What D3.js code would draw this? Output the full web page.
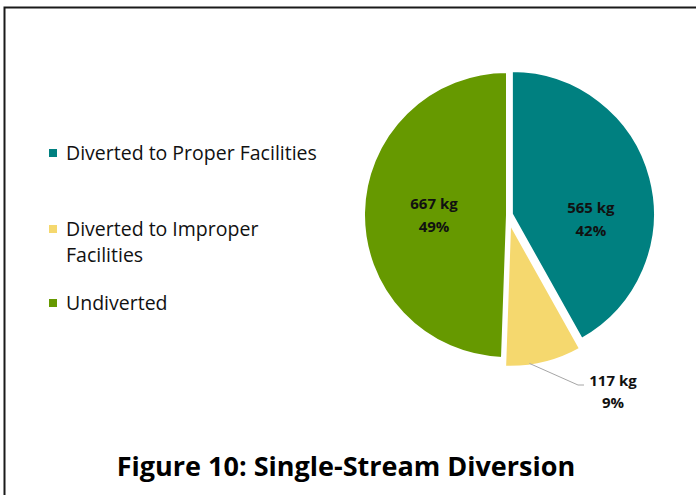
<!DOCTYPE html>
<html>
<head>
<meta charset="utf-8">
<script src="https://d3js.org/d3.v7.min.js"></script>
<style>
body { margin: 0; background: #fff; }
text { font-family: "Open Sans", Lato, sans-serif; }
</style>
</head>
<body>
<svg id="chart" width="696" height="495"></svg>
<script>
// data
var categories = ["Diverted to Proper Facilities", "Diverted to Improper Facilities", "Undiverted"]
var values = [565, 117, 667]
var percents = ["42%", "9%", "49%"]
var colors = ["#008080", "#F5D86E", "#669900"]
var explode = [4, 9, 1]
var legendLines = [["Diverted to Proper Facilities"], ["Diverted to Improper", "Facilities"], ["Undiverted"]]
var title = "Figure 10: Single-Stream Diversion"

var svg = d3.select("#chart")
var cx = 508, cy = 215, r = 143

// frame (left + top edge only visible)
svg.append("path")
    .attr("d", "M4.5,495 V7.5 H696")
    .style("fill", "none")
    .style("stroke", "#1a1a1a")
    .style("stroke-width", 2)

var pie = d3.pie().sort(null).value(d => d)
var arcs = pie(values)
var arc = d3.arc().innerRadius(0).outerRadius(r)

var g = svg.append("g").attr("transform", "translate(" + cx + "," + cy + ")")

arcs.forEach(function(a, i) {
    var mid = (a.startAngle + a.endAngle) / 2
    var dx = Math.sin(mid) * explode[i]
    var dy = -Math.cos(mid) * explode[i]
    g.append("path")
        .attr("d", arc(a))
        .attr("transform", "translate(" + dx + "," + dy + ")")
        .style("fill", colors[i])
        .style("stroke", "#fff")
        .style("stroke-width", 2)
})

// inside labels (angle in degrees clockwise from top, radius)
var labelPos = {0: [93, 83], 2: [270, 74]}
Object.keys(labelPos).forEach(function(k) {
    var i = +k
    var ang = labelPos[k][0] * Math.PI / 180, rr = labelPos[k][1]
    var c = [Math.sin(ang) * rr, -Math.cos(ang) * rr]
    var t = g.append("text")
        .attr("text-anchor", "middle")
        .style("font-weight", "bold")
        .style("font-size", "15px")
        .style("fill", "#111")
    t.append("tspan").attr("x", c[0]).attr("y", c[1] - 6).text(values[i] + " kg")
    t.append("tspan").attr("x", c[0]).attr("y", c[1] + 17).text(percents[i])
})

// outside label for small slice with leader
var a1 = arcs[1]
var mid1 = (a1.startAngle + a1.endAngle) / 2
var ex = Math.sin(mid1) * explode[1], ey = -Math.cos(mid1) * explode[1]
var p0 = [ex + Math.sin(mid1 + 0.1) * (r - 2), ey - Math.cos(mid1 + 0.1) * (r - 2)]
var p1 = [70, 170]
var p2 = [76, 170]
g.append("polyline")
    .attr("points", [p0, p1, p2].map(p => p.join(",")).join(" "))
    .style("fill", "none")
    .style("stroke", "#a6a6a6")
    .style("stroke-width", 1)
var t1 = g.append("text")
    .attr("text-anchor", "middle")
    .style("font-weight", "bold")
    .style("font-size", "15px")
    .style("fill", "#111")
t1.append("tspan").attr("x", 105).attr("y", 171).text(values[1] + " kg")
t1.append("tspan").attr("x", 105).attr("y", 193).text(percents[1])

// legend
var legendY = [153, 229, 303]
var legend = svg.append("g")
categories.forEach(function(c, i) {
    legend.append("rect")
        .attr("x", 49).attr("y", legendY[i] - 4)
        .attr("width", 8).attr("height", 8)
        .style("fill", colors[i])
    var t = legend.append("text")
        .style("font-size", "19.5px")
        .style("fill", "#111")
    legendLines[i].forEach(function(line, j) {
        t.append("tspan").attr("x", 66).attr("y", legendY[i] + 6.5 + j * 26).text(line)
    })
})

// title
svg.append("text")
    .attr("x", 346).attr("y", 476)
    .attr("text-anchor", "middle")
    .style("font-weight", "bold")
    .style("font-size", "27px")
    .style("fill", "#000")
    .text(title)
</script>
</body>
</html>
